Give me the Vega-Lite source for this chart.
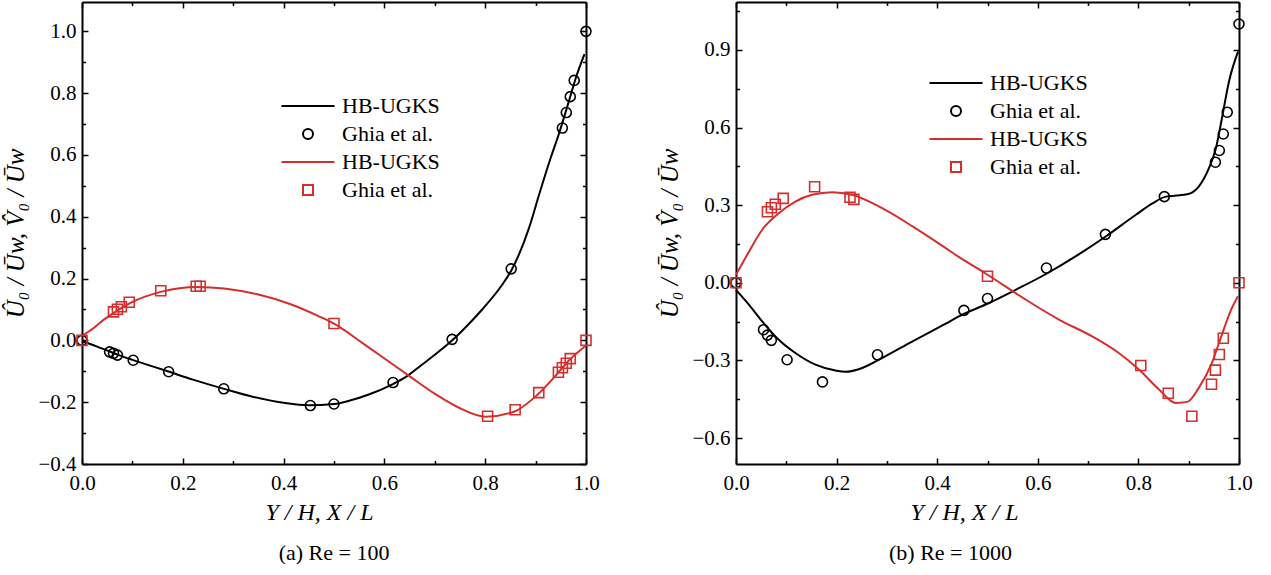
{
  "$schema": "https://vega.github.io/schema/vega-lite/v6.json",
  "padding": {"left": 3, "top": 0, "right": 5, "bottom": 0},
  "background": "white",
  "datasets": {
    "re100": [
      {"x": 0, "y": -0.003, "series": "HB-UGKS U"},
      {"x": 0.03, "y": -0.02, "series": "HB-UGKS U"},
      {"x": 0.055, "y": -0.036, "series": "HB-UGKS U"},
      {"x": 0.07, "y": -0.046, "series": "HB-UGKS U"},
      {"x": 0.1, "y": -0.063, "series": "HB-UGKS U"},
      {"x": 0.14, "y": -0.084, "series": "HB-UGKS U"},
      {"x": 0.17, "y": -0.1, "series": "HB-UGKS U"},
      {"x": 0.22, "y": -0.127, "series": "HB-UGKS U"},
      {"x": 0.28, "y": -0.156, "series": "HB-UGKS U"},
      {"x": 0.34, "y": -0.183, "series": "HB-UGKS U"},
      {"x": 0.4, "y": -0.202, "series": "HB-UGKS U"},
      {"x": 0.45, "y": -0.21, "series": "HB-UGKS U"},
      {"x": 0.5, "y": -0.206, "series": "HB-UGKS U"},
      {"x": 0.535, "y": -0.193, "series": "HB-UGKS U"},
      {"x": 0.569, "y": -0.175, "series": "HB-UGKS U"},
      {"x": 0.616, "y": -0.142, "series": "HB-UGKS U"},
      {"x": 0.642, "y": -0.119, "series": "HB-UGKS U"},
      {"x": 0.675, "y": -0.078, "series": "HB-UGKS U"},
      {"x": 0.705, "y": -0.04, "series": "HB-UGKS U"},
      {"x": 0.733, "y": -0.002, "series": "HB-UGKS U"},
      {"x": 0.768, "y": 0.054, "series": "HB-UGKS U"},
      {"x": 0.794, "y": 0.1, "series": "HB-UGKS U"},
      {"x": 0.834, "y": 0.181, "series": "HB-UGKS U"},
      {"x": 0.852, "y": 0.227, "series": "HB-UGKS U"},
      {"x": 0.887, "y": 0.364, "series": "HB-UGKS U"},
      {"x": 0.907, "y": 0.472, "series": "HB-UGKS U"},
      {"x": 0.93, "y": 0.591, "series": "HB-UGKS U"},
      {"x": 0.946, "y": 0.667, "series": "HB-UGKS U"},
      {"x": 0.966, "y": 0.774, "series": "HB-UGKS U"},
      {"x": 0.98, "y": 0.85, "series": "HB-UGKS U"},
      {"x": 0.997, "y": 0.926, "series": "HB-UGKS U"},
      {"x": 0, "y": 0.015, "series": "HB-UGKS V"},
      {"x": 0.024, "y": 0.041, "series": "HB-UGKS V"},
      {"x": 0.044, "y": 0.068, "series": "HB-UGKS V"},
      {"x": 0.063, "y": 0.089, "series": "HB-UGKS V"},
      {"x": 0.097, "y": 0.122, "series": "HB-UGKS V"},
      {"x": 0.156, "y": 0.157, "series": "HB-UGKS V"},
      {"x": 0.229, "y": 0.173, "series": "HB-UGKS V"},
      {"x": 0.282, "y": 0.168, "series": "HB-UGKS V"},
      {"x": 0.348, "y": 0.149, "series": "HB-UGKS V"},
      {"x": 0.414, "y": 0.117, "series": "HB-UGKS V"},
      {"x": 0.47, "y": 0.078, "series": "HB-UGKS V"},
      {"x": 0.5, "y": 0.054, "series": "HB-UGKS V"},
      {"x": 0.556, "y": -0.008, "series": "HB-UGKS V"},
      {"x": 0.603, "y": -0.062, "series": "HB-UGKS V"},
      {"x": 0.649, "y": -0.115, "series": "HB-UGKS V"},
      {"x": 0.702, "y": -0.175, "series": "HB-UGKS V"},
      {"x": 0.748, "y": -0.218, "series": "HB-UGKS V"},
      {"x": 0.801, "y": -0.247, "series": "HB-UGKS V"},
      {"x": 0.857, "y": -0.231, "series": "HB-UGKS V"},
      {"x": 0.903, "y": -0.177, "series": "HB-UGKS V"},
      {"x": 0.943, "y": -0.108, "series": "HB-UGKS V"},
      {"x": 0.966, "y": -0.065, "series": "HB-UGKS V"},
      {"x": 0.999, "y": -0.018, "series": "HB-UGKS V"},
      {"x": 0, "y": 0, "series": "Ghia U"},
      {"x": 0.0547, "y": -0.03717, "series": "Ghia U"},
      {"x": 0.0625, "y": -0.04192, "series": "Ghia U"},
      {"x": 0.0703, "y": -0.04775, "series": "Ghia U"},
      {"x": 0.1016, "y": -0.06434, "series": "Ghia U"},
      {"x": 0.1719, "y": -0.1015, "series": "Ghia U"},
      {"x": 0.2813, "y": -0.15662, "series": "Ghia U"},
      {"x": 0.4531, "y": -0.2109, "series": "Ghia U"},
      {"x": 0.5, "y": -0.20581, "series": "Ghia U"},
      {"x": 0.6172, "y": -0.13641, "series": "Ghia U"},
      {"x": 0.7344, "y": 0.00332, "series": "Ghia U"},
      {"x": 0.8516, "y": 0.23151, "series": "Ghia U"},
      {"x": 0.9531, "y": 0.68717, "series": "Ghia U"},
      {"x": 0.9609, "y": 0.73722, "series": "Ghia U"},
      {"x": 0.9688, "y": 0.78871, "series": "Ghia U"},
      {"x": 0.9766, "y": 0.84123, "series": "Ghia U"},
      {"x": 1, "y": 1, "series": "Ghia U"},
      {"x": 0, "y": 0, "series": "Ghia V"},
      {"x": 0.0625, "y": 0.09233, "series": "Ghia V"},
      {"x": 0.0703, "y": 0.10091, "series": "Ghia V"},
      {"x": 0.0781, "y": 0.1089, "series": "Ghia V"},
      {"x": 0.0938, "y": 0.12317, "series": "Ghia V"},
      {"x": 0.1563, "y": 0.16077, "series": "Ghia V"},
      {"x": 0.2266, "y": 0.17507, "series": "Ghia V"},
      {"x": 0.2344, "y": 0.17527, "series": "Ghia V"},
      {"x": 0.5, "y": 0.05454, "series": "Ghia V"},
      {"x": 0.8047, "y": -0.24533, "series": "Ghia V"},
      {"x": 0.8594, "y": -0.22445, "series": "Ghia V"},
      {"x": 0.9063, "y": -0.16914, "series": "Ghia V"},
      {"x": 0.9453, "y": -0.10313, "series": "Ghia V"},
      {"x": 0.9531, "y": -0.08864, "series": "Ghia V"},
      {"x": 0.9609, "y": -0.07391, "series": "Ghia V"},
      {"x": 0.9688, "y": -0.05906, "series": "Ghia V"},
      {"x": 1, "y": 0, "series": "Ghia V"}
    ],
    "re1000": [
      {"x": 0, "y": -0.027, "series": "HB-UGKS U"},
      {"x": 0.026, "y": -0.085, "series": "HB-UGKS U"},
      {"x": 0.052, "y": -0.149, "series": "HB-UGKS U"},
      {"x": 0.085, "y": -0.22, "series": "HB-UGKS U"},
      {"x": 0.118, "y": -0.271, "series": "HB-UGKS U"},
      {"x": 0.158, "y": -0.316, "series": "HB-UGKS U"},
      {"x": 0.198, "y": -0.339, "series": "HB-UGKS U"},
      {"x": 0.218, "y": -0.344, "series": "HB-UGKS U"},
      {"x": 0.251, "y": -0.329, "series": "HB-UGKS U"},
      {"x": 0.291, "y": -0.29, "series": "HB-UGKS U"},
      {"x": 0.351, "y": -0.226, "series": "HB-UGKS U"},
      {"x": 0.417, "y": -0.158, "series": "HB-UGKS U"},
      {"x": 0.443, "y": -0.13, "series": "HB-UGKS U"},
      {"x": 0.503, "y": -0.078, "series": "HB-UGKS U"},
      {"x": 0.556, "y": -0.027, "series": "HB-UGKS U"},
      {"x": 0.619, "y": 0.037, "series": "HB-UGKS U"},
      {"x": 0.675, "y": 0.102, "series": "HB-UGKS U"},
      {"x": 0.735, "y": 0.179, "series": "HB-UGKS U"},
      {"x": 0.795, "y": 0.263, "series": "HB-UGKS U"},
      {"x": 0.828, "y": 0.307, "series": "HB-UGKS U"},
      {"x": 0.855, "y": 0.333, "series": "HB-UGKS U"},
      {"x": 0.875, "y": 0.337, "series": "HB-UGKS U"},
      {"x": 0.897, "y": 0.342, "series": "HB-UGKS U"},
      {"x": 0.92, "y": 0.372, "series": "HB-UGKS U"},
      {"x": 0.94, "y": 0.442, "series": "HB-UGKS U"},
      {"x": 0.954, "y": 0.519, "series": "HB-UGKS U"},
      {"x": 0.966, "y": 0.635, "series": "HB-UGKS U"},
      {"x": 0.98, "y": 0.777, "series": "HB-UGKS U"},
      {"x": 0.998, "y": 0.893, "series": "HB-UGKS U"},
      {"x": 0, "y": 0.031, "series": "HB-UGKS V"},
      {"x": 0.026, "y": 0.121, "series": "HB-UGKS V"},
      {"x": 0.052, "y": 0.205, "series": "HB-UGKS V"},
      {"x": 0.085, "y": 0.269, "series": "HB-UGKS V"},
      {"x": 0.118, "y": 0.314, "series": "HB-UGKS V"},
      {"x": 0.151, "y": 0.34, "series": "HB-UGKS V"},
      {"x": 0.191, "y": 0.35, "series": "HB-UGKS V"},
      {"x": 0.231, "y": 0.34, "series": "HB-UGKS V"},
      {"x": 0.284, "y": 0.295, "series": "HB-UGKS V"},
      {"x": 0.351, "y": 0.218, "series": "HB-UGKS V"},
      {"x": 0.417, "y": 0.134, "series": "HB-UGKS V"},
      {"x": 0.443, "y": 0.1, "series": "HB-UGKS V"},
      {"x": 0.497, "y": 0.035, "series": "HB-UGKS V"},
      {"x": 0.576, "y": -0.065, "series": "HB-UGKS V"},
      {"x": 0.642, "y": -0.142, "series": "HB-UGKS V"},
      {"x": 0.708, "y": -0.207, "series": "HB-UGKS V"},
      {"x": 0.761, "y": -0.271, "series": "HB-UGKS V"},
      {"x": 0.801, "y": -0.335, "series": "HB-UGKS V"},
      {"x": 0.841, "y": -0.412, "series": "HB-UGKS V"},
      {"x": 0.874, "y": -0.464, "series": "HB-UGKS V"},
      {"x": 0.897, "y": -0.46, "series": "HB-UGKS V"},
      {"x": 0.92, "y": -0.406, "series": "HB-UGKS V"},
      {"x": 0.946, "y": -0.31, "series": "HB-UGKS V"},
      {"x": 0.966, "y": -0.2, "series": "HB-UGKS V"},
      {"x": 0.983, "y": -0.11, "series": "HB-UGKS V"},
      {"x": 0.998, "y": -0.052, "series": "HB-UGKS V"},
      {"x": 0, "y": 0, "series": "Ghia U"},
      {"x": 0.0547, "y": -0.18109, "series": "Ghia U"},
      {"x": 0.0625, "y": -0.20196, "series": "Ghia U"},
      {"x": 0.0703, "y": -0.2222, "series": "Ghia U"},
      {"x": 0.1016, "y": -0.2973, "series": "Ghia U"},
      {"x": 0.1719, "y": -0.38289, "series": "Ghia U"},
      {"x": 0.2813, "y": -0.27805, "series": "Ghia U"},
      {"x": 0.4531, "y": -0.10648, "series": "Ghia U"},
      {"x": 0.5, "y": -0.0608, "series": "Ghia U"},
      {"x": 0.6172, "y": 0.05702, "series": "Ghia U"},
      {"x": 0.7344, "y": 0.18719, "series": "Ghia U"},
      {"x": 0.8516, "y": 0.33304, "series": "Ghia U"},
      {"x": 0.9531, "y": 0.46604, "series": "Ghia U"},
      {"x": 0.9609, "y": 0.51117, "series": "Ghia U"},
      {"x": 0.9688, "y": 0.57492, "series": "Ghia U"},
      {"x": 0.9766, "y": 0.65928, "series": "Ghia U"},
      {"x": 1, "y": 1, "series": "Ghia U"},
      {"x": 0, "y": 0, "series": "Ghia V"},
      {"x": 0.0625, "y": 0.27485, "series": "Ghia V"},
      {"x": 0.0703, "y": 0.29012, "series": "Ghia V"},
      {"x": 0.0781, "y": 0.30353, "series": "Ghia V"},
      {"x": 0.0938, "y": 0.32627, "series": "Ghia V"},
      {"x": 0.1563, "y": 0.37095, "series": "Ghia V"},
      {"x": 0.2266, "y": 0.33075, "series": "Ghia V"},
      {"x": 0.2344, "y": 0.32235, "series": "Ghia V"},
      {"x": 0.5, "y": 0.02526, "series": "Ghia V"},
      {"x": 0.8047, "y": -0.31966, "series": "Ghia V"},
      {"x": 0.8594, "y": -0.42665, "series": "Ghia V"},
      {"x": 0.9063, "y": -0.5155, "series": "Ghia V"},
      {"x": 0.9453, "y": -0.39188, "series": "Ghia V"},
      {"x": 0.9531, "y": -0.33714, "series": "Ghia V"},
      {"x": 0.9609, "y": -0.27669, "series": "Ghia V"},
      {"x": 0.9688, "y": -0.21388, "series": "Ghia V"},
      {"x": 1, "y": 0, "series": "Ghia V"}
    ]
  },
  "hconcat": [
    {
      "width": 504,
      "height": 462,
      "title": {"text": "(a) Re = 100", "orient": "bottom", "offset": 18, "font": "Liberation Serif", "fontSize": 22, "fontWeight": "normal", "color": "black"},
      "data": {"name": "re100"},
      "layer": [
        {
          "transform": [{"filter": "indexof(datum.series, 'HB') === 0"}],
          "mark": {"type": "line", "strokeWidth": 2, "interpolate": "monotone"},
          "encoding": {
            "x": {"field": "x", "type": "quantitative", "scale": {"domain": [0, 1], "nice": false, "zero": false},
              "axis": {"orient": "bottom", "title": "Y / H,  X / L", "titleFontStyle": "italic", "titleFontSize": 24, "titlePadding": 5, "titleX": 237,
                "values": [0, 0.1, 0.2, 0.3, 0.4, 0.5, 0.6, 0.7, 0.8, 0.9, 1],
                "labelExpr": "round(datum.value*10) % 2 === 0 ? format(datum.value, '.1f') : ''",
                "tickSize": {"condition": {"test": "round(datum.value*10) % 2 === 0", "value": -6}, "value": -3.5},
                "labelPadding": 14}},
            "y": {"field": "y", "type": "quantitative", "scale": {"domain": [-0.4, 1.095], "nice": false, "zero": false},
              "axis": {"orient": "left", "title": "Û₀ / Ūw,  V̂₀ / Ūw", "titleFontStyle": "italic", "titleFontSize": 25, "titlePadding": 9,
                "values": [-0.4, -0.3, -0.2, -0.1, 0, 0.1, 0.2, 0.3, 0.4, 0.5, 0.6, 0.7, 0.8, 0.9, 1.0],
                "labelExpr": "round(datum.value*10) % 2 === 0 ? format(datum.value, '.1f') : ''",
                "tickSize": {"condition": {"test": "round(datum.value*10) % 2 === 0", "value": -6}, "value": -3.5},
                "labelPadding": 12}},
            "color": {"field": "series", "type": "nominal",
              "scale": {"domain": ["HB-UGKS U", "Ghia U", "HB-UGKS V", "Ghia V"], "range": ["black", "black", "#d62d2d", "#d62d2d"]},
              "legend": {"orient": "none", "legendX": 215, "legendY": 93, "title": null, "padding": 0,
                "labelExpr": "indexof(datum.label, 'HB') === 0 ? 'HB-UGKS' : 'Ghia et al.'",
                "labelFont": "Liberation Serif", "labelFontSize": 22, "labelColor": "black", "labelOffset": 23, "rowPadding": 6, "symbolSize": 100, "symbolStrokeWidth": 2}}
          }
        },
        {
          "transform": [{"filter": "indexof(datum.series, 'Ghia') === 0"}],
          "mark": {"type": "point", "filled": false, "size": 100, "strokeWidth": 1.6, "opacity": 1},
          "encoding": {
            "x": {"field": "x", "type": "quantitative", "scale": {"domain": [0, 1], "nice": false, "zero": false},
              "axis": {"orient": "top", "title": null, "labels": false,
                "values": [0, 0.1, 0.2, 0.3, 0.4, 0.5, 0.6, 0.7, 0.8, 0.9, 1],
                "tickSize": {"condition": {"test": "round(datum.value*10) % 2 === 0", "value": -6}, "value": -3.5}}},
            "y": {"field": "y", "type": "quantitative", "scale": {"domain": [-0.4, 1.095], "nice": false, "zero": false},
              "axis": {"orient": "right", "title": null, "labels": false,
                "values": [-0.4, -0.3, -0.2, -0.1, 0, 0.1, 0.2, 0.3, 0.4, 0.5, 0.6, 0.7, 0.8, 0.9, 1.0],
                "tickSize": {"condition": {"test": "round(datum.value*10) % 2 === 0", "value": -6}, "value": -3.5}}},
            "color": {"field": "series", "type": "nominal",
              "scale": {"domain": ["HB-UGKS U", "Ghia U", "HB-UGKS V", "Ghia V"], "range": ["black", "black", "#d62d2d", "#d62d2d"]},
              "legend": {"orient": "none", "legendX": 215, "legendY": 93, "title": null, "padding": 0,
                "labelExpr": "indexof(datum.label, 'HB') === 0 ? 'HB-UGKS' : 'Ghia et al.'",
                "labelFont": "Liberation Serif", "labelFontSize": 22, "labelColor": "black", "labelOffset": 23, "rowPadding": 6, "symbolSize": 100, "symbolStrokeWidth": 2}},
            "shape": {"field": "series", "type": "nominal",
              "scale": {"domain": ["HB-UGKS U", "Ghia U", "HB-UGKS V", "Ghia V"], "range": ["M-5.3,0H5.3", "circle", "M-5.3,0H5.3", "square"]},
              "legend": {"orient": "none", "legendX": 215, "legendY": 93, "title": null, "padding": 0,
                "labelExpr": "indexof(datum.label, 'HB') === 0 ? 'HB-UGKS' : 'Ghia et al.'",
                "labelFont": "Liberation Serif", "labelFontSize": 22, "labelColor": "black", "labelOffset": 23, "rowPadding": 6, "symbolSize": 100, "symbolStrokeWidth": 2}}
          }
        }
      ],
      "resolve": {"axis": {"x": "independent", "y": "independent"}}
    },
    {
      "width": 503,
      "height": 462,
      "title": {"text": "(b) Re = 1000", "orient": "bottom", "offset": 18, "dx": -37, "font": "Liberation Serif", "fontSize": 22, "fontWeight": "normal", "color": "black"},
      "data": {"name": "re1000"},
      "layer": [
        {
          "transform": [{"filter": "indexof(datum.series, 'HB') === 0"}],
          "mark": {"type": "line", "strokeWidth": 2, "interpolate": "monotone"},
          "encoding": {
            "x": {"field": "x", "type": "quantitative", "scale": {"domain": [0, 1], "nice": false, "zero": false},
              "axis": {"orient": "bottom", "title": "Y / H,  X / L", "titleFontStyle": "italic", "titleFontSize": 24, "titlePadding": 5, "titleX": 228,
                "values": [0, 0.1, 0.2, 0.3, 0.4, 0.5, 0.6, 0.7, 0.8, 0.9, 1],
                "labelExpr": "round(datum.value*10) % 2 === 0 ? format(datum.value, '.1f') : ''",
                "tickSize": {"condition": {"test": "round(datum.value*10) % 2 === 0", "value": -6}, "value": -3.5},
                "labelPadding": 14}},
            "y": {"field": "y", "type": "quantitative", "scale": {"domain": [-0.7, 1.085], "nice": false, "zero": false},
              "axis": {"orient": "left", "title": "Û₀ / Ūw,  V̂₀ / Ūw", "titleFontStyle": "italic", "titleFontSize": 25, "titlePadding": 9,
                "values": [-0.6, -0.45, -0.3, -0.15, 0, 0.15, 0.3, 0.45, 0.6, 0.75, 0.9, 1.05],
                "labelExpr": "round(datum.value/0.15) % 2 === 0 ? format(datum.value, '.1f') : ''",
                "tickSize": {"condition": {"test": "round(datum.value/0.15) % 2 === 0", "value": -6}, "value": -3.5},
                "labelPadding": 12}},
            "color": {"field": "series", "type": "nominal",
              "scale": {"domain": ["HB-UGKS U", "Ghia U", "HB-UGKS V", "Ghia V"], "range": ["black", "black", "#d62d2d", "#d62d2d"]},
              "legend": {"orient": "none", "legendX": 209, "legendY": 70, "title": null, "padding": 0,
                "labelExpr": "indexof(datum.label, 'HB') === 0 ? 'HB-UGKS' : 'Ghia et al.'",
                "labelFont": "Liberation Serif", "labelFontSize": 22, "labelColor": "black", "labelOffset": 23, "rowPadding": 6, "symbolSize": 100, "symbolStrokeWidth": 2}}
          }
        },
        {
          "transform": [{"filter": "indexof(datum.series, 'Ghia') === 0"}],
          "mark": {"type": "point", "filled": false, "size": 100, "strokeWidth": 1.6, "opacity": 1},
          "encoding": {
            "x": {"field": "x", "type": "quantitative", "scale": {"domain": [0, 1], "nice": false, "zero": false},
              "axis": {"orient": "top", "title": null, "labels": false,
                "values": [0, 0.1, 0.2, 0.3, 0.4, 0.5, 0.6, 0.7, 0.8, 0.9, 1],
                "tickSize": {"condition": {"test": "round(datum.value*10) % 2 === 0", "value": -6}, "value": -3.5}}},
            "y": {"field": "y", "type": "quantitative", "scale": {"domain": [-0.7, 1.085], "nice": false, "zero": false},
              "axis": {"orient": "right", "title": null, "labels": false,
                "values": [-0.6, -0.45, -0.3, -0.15, 0, 0.15, 0.3, 0.45, 0.6, 0.75, 0.9, 1.05],
                "tickSize": {"condition": {"test": "round(datum.value/0.15) % 2 === 0", "value": -6}, "value": -3.5}}},
            "color": {"field": "series", "type": "nominal",
              "scale": {"domain": ["HB-UGKS U", "Ghia U", "HB-UGKS V", "Ghia V"], "range": ["black", "black", "#d62d2d", "#d62d2d"]},
              "legend": {"orient": "none", "legendX": 209, "legendY": 70, "title": null, "padding": 0,
                "labelExpr": "indexof(datum.label, 'HB') === 0 ? 'HB-UGKS' : 'Ghia et al.'",
                "labelFont": "Liberation Serif", "labelFontSize": 22, "labelColor": "black", "labelOffset": 23, "rowPadding": 6, "symbolSize": 100, "symbolStrokeWidth": 2}},
            "shape": {"field": "series", "type": "nominal",
              "scale": {"domain": ["HB-UGKS U", "Ghia U", "HB-UGKS V", "Ghia V"], "range": ["M-5.3,0H5.3", "circle", "M-5.3,0H5.3", "square"]},
              "legend": {"orient": "none", "legendX": 209, "legendY": 70, "title": null, "padding": 0,
                "labelExpr": "indexof(datum.label, 'HB') === 0 ? 'HB-UGKS' : 'Ghia et al.'",
                "labelFont": "Liberation Serif", "labelFontSize": 22, "labelColor": "black", "labelOffset": 23, "rowPadding": 6, "symbolSize": 100, "symbolStrokeWidth": 2}}
          }
        }
      ],
      "resolve": {"axis": {"x": "independent", "y": "independent"}}
    }
  ],
  "spacing": 57,
  "resolve": {"scale": {"color": "independent", "shape": "independent"}, "legend": {"color": "independent", "shape": "independent"}},
  "config": {
    "font": "Liberation Serif",
    "view": {"stroke": null},
    "axis": {"domainColor": "black", "domainWidth": 2, "tickColor": "black", "tickWidth": 1.5, "grid": false,
      "labelFont": "Liberation Serif", "labelFontSize": 21, "labelColor": "black", "labelFlush": false, "labelOverlap": false,
      "titleFont": "Liberation Serif", "titleFontSize": 21, "titleFontWeight": "normal", "titleColor": "black"}
  }
}
